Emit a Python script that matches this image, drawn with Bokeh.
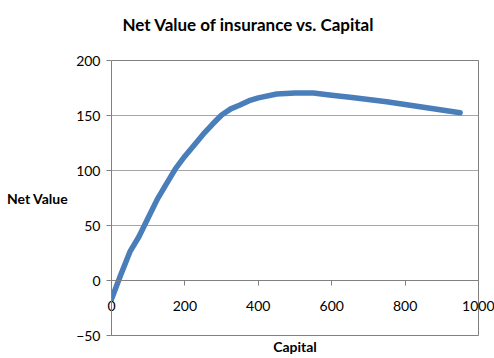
from bokeh.plotting import figure
from bokeh.models import Range1d, LinearAxis, FixedTicker
from bokeh.embed import file_html
from bokeh.resources import INLINE

# Net value of insurance as a function of capital
capital = [0, 25, 50, 75, 100, 125, 150, 175, 200, 225, 250, 275, 300, 325,
           350, 375, 400, 450, 500, 550, 600, 650, 700, 750, 800, 850, 900, 950]
net_value = [-17, 5, 26, 40, 57, 74, 88, 102, 113, 123, 133, 142, 150.5, 156,
             159.5, 163.5, 166, 169.5, 170.5, 170.5, 168.5, 166.5, 164.5, 162.5,
             160, 157.5, 155, 152.5]

x_ticks = [0, 200, 400, 600, 800, 1000]
y_ticks = [-50, 0, 50, 100, 150, 200]

FONT = "Lato"
AXIS_GREY = "#808080"

p = figure(width=494, height=358, output_backend="svg", toolbar_location=None,
           x_range=Range1d(0, 1000), y_range=Range1d(-50, 200),
           x_axis_location=None,
           min_border_left=111, min_border_right=16,
           min_border_top=60, min_border_bottom=23)
p.background_fill_color = "white"
p.border_fill_color = "white"
p.outline_line_color = AXIS_GREY
p.outline_line_width = 1

# blank band between the frame and the title (white tick on white border)
gap = LinearAxis(ticker=FixedTicker(ticks=[0]))
gap.axis_line_color = None
gap.major_tick_line_color = "white"
gap.minor_tick_line_color = None
gap.major_tick_in = 0
gap.major_tick_out = 26
gap.major_label_standoff = 0
gap.major_label_text_color = None
gap.major_label_text_font_size = "0px"
p.add_layout(gap, "above")

# chart title
p.title.text = "Net Value of insurance vs. Capital"
p.title.align = "left"
p.title.offset = 11
p.title.standoff = 0
p.title.vertical_align = "bottom"
p.title.text_font = FONT
p.title.text_font_style = "bold"
p.title.text_font_size = "17px"
p.title.text_color = "black"

# horizontal gridlines only
for g in p.grid:
    if g.dimension == 0:
        g.visible = False
    else:
        g.ticker = FixedTicker(ticks=y_ticks)
        g.grid_line_color = "#a6a6a6"
        g.grid_line_width = 1

# value axis on the left
yax = p.yaxis[0]
yax.ticker = FixedTicker(ticks=y_ticks)
yax.axis_line_color = AXIS_GREY
yax.major_tick_line_color = AXIS_GREY
yax.major_tick_out = 5
yax.major_tick_in = 0
yax.minor_tick_line_color = None
yax.major_label_standoff = 6
yax.major_label_text_font = FONT
yax.major_label_text_font_size = "14px"
yax.major_label_text_color = "black"
yax.axis_label = "Net Value"
yax.axis_label_orientation = "horizontal"
yax.axis_label_standoff = 5
yax.axis_label_text_font = FONT
yax.axis_label_text_font_style = "bold"
yax.axis_label_text_font_size = "14px"
yax.axis_label_text_color = "black"

# capital tick labels, lifted up to sit just under the zero line
xlab = LinearAxis(ticker=FixedTicker(ticks=x_ticks))
xlab.axis_line_color = None
xlab.major_tick_line_color = None
xlab.minor_tick_line_color = None
xlab.major_tick_out = 0
xlab.major_tick_in = 0
xlab.major_label_standoff = -35
xlab.major_label_text_font = FONT
xlab.major_label_text_font_size = "14px"
xlab.major_label_text_color = "black"
xlab.axis_label = "Capital"
xlab.axis_label_standoff = 24
xlab.axis_label_text_font = FONT
xlab.axis_label_text_font_style = "bold"
xlab.axis_label_text_font_size = "14px"
xlab.axis_label_text_color = "black"
p.add_layout(xlab, "below")

# capital axis line and ticks crossing at zero
xax = LinearAxis(fixed_location=0, ticker=FixedTicker(ticks=x_ticks))
xax.axis_line_color = AXIS_GREY
xax.major_tick_line_color = AXIS_GREY
xax.major_tick_out = 5
xax.major_tick_in = 0
xax.minor_tick_line_color = None
xax.major_label_text_color = None
xax.major_label_text_font_size = "1px"
p.add_layout(xax, "below")

p.line(capital, net_value, line_color="#4a7ebb", line_width=5.5,
       line_cap="round", line_join="round")

open("out.html", "w").write(file_html(p, INLINE))
